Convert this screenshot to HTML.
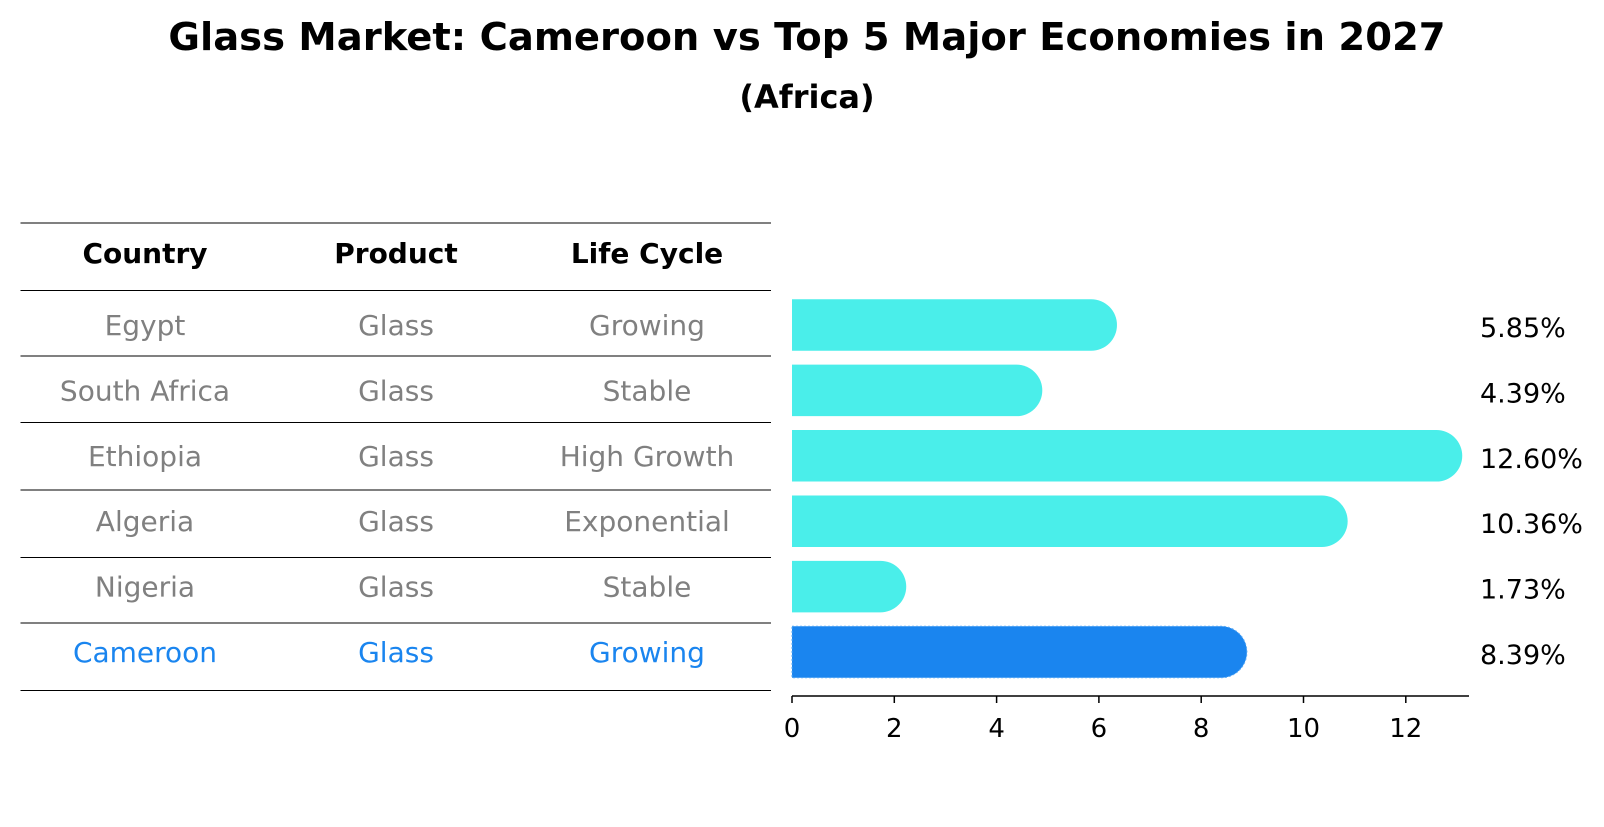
<!DOCTYPE html>
<html><head><meta charset="utf-8"><style>
body{margin:0;background:#fff;font-family:"DejaVu Sans","Liberation Sans",sans-serif;}
</style></head><body>
<svg width="1604" height="823" xmlns="http://www.w3.org/2000/svg" font-family="DejaVu Sans, Liberation Sans, sans-serif">
<text x="807" y="50" text-anchor="middle" font-size="38.5" font-weight="bold">Glass Market: Cameroon vs Top 5 Major Economies in 2027</text>
<text x="807" y="108" text-anchor="middle" font-size="32" font-weight="bold">(Africa)</text>
<g id="table"></g>
<g id="bars"></g>
</svg>
<script>
const countries=["Egypt","South Africa","Ethiopia","Algeria","Nigeria","Cameroon"];
const products=["Glass","Glass","Glass","Glass","Glass","Glass"];
const lifeCycles=["Growing","Stable","High Growth","Exponential","Stable","Growing"];
const values=[5.85,4.39,12.60,10.36,1.73,8.39];
const valueLabels=["5.85%","4.39%","12.60%","10.36%","1.73%","8.39%"];
const ticks=[0,2,4,6,8,10,12];
const NS="http://www.w3.org/2000/svg";
function mk(t,a,p){const e=document.createElementNS(NS,t);for(const k in a)e.setAttribute(k,a[k]);p.appendChild(e);return e;}
const tbl=document.getElementById('table'),bars=document.getElementById('bars');
const lines=[223,290.5,356,422.5,490,557.5,623,690.5];
lines.forEach(y=>{const l=mk('line',{x1:20.5,x2:771,y1:y,y2:y,stroke:'#000','stroke-width':1},tbl);

});
const cols=[145,396,647];
["Country","Product","Life Cycle"].forEach((h,i)=>{const t=mk('text',{x:cols[i],y:263,'text-anchor':'middle','font-size':28,'font-weight':'bold',textLength:0},tbl);t.removeAttribute('textLength');t.textContent=h;

});
const x=v=>792+v*51.15;
const rowY=i=>325+i*65.4;
countries.forEach((c,i)=>{
 const col=i===countries.length-1?'#1a85ef':'#808080';
 [c,products[i],lifeCycles[i]].forEach((s,j)=>{const t=mk('text',{x:cols[j],y:rowY(i)+10,'text-anchor':'middle','font-size':28,fill:col},tbl);t.textContent=s;
 
 });
 const h=51.5,r=h/2,x0=x(0),xe=x(values[i]);
 const fill=i===countries.length-1?'#1a85ef':'#4aeeea';
 const p=mk('path',{d:`M${x0},${rowY(i)-r}H${xe}A${r},${r} 0 0 1 ${xe},${rowY(i)+r}H${x0}Z`,fill:fill},bars);
 if(i===countries.length-1){p.setAttribute('stroke','#5aaaf5');p.setAttribute('stroke-dasharray','2,2');p.setAttribute('stroke-width','1');}
 
 
 const vt=mk('text',{x:1480,y:rowY(i)+12,'font-size':27},bars);vt.textContent=valueLabels[i];
 
 
});
const ax=mk('line',{x1:792,x2:1469,y1:696,y2:696,stroke:'#000','stroke-width':1.5},bars);


ticks.forEach(t=>{const l=mk('line',{x1:x(t),x2:x(t),y1:696,y2:703,stroke:'#000','stroke-width':1.5},bars);


const tx=mk('text',{x:x(t),y:737,'text-anchor':'middle','font-size':26},bars);tx.textContent=t;

});
</script>
</body></html>
